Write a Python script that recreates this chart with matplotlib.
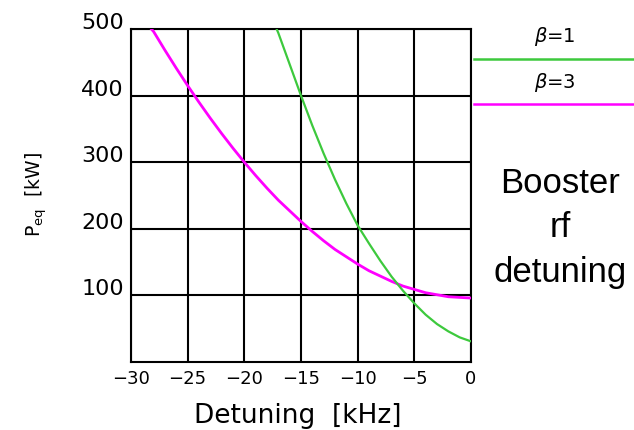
import matplotlib
matplotlib.use("Agg")
import matplotlib.pyplot as plt
from matplotlib.lines import Line2D

# Detuning axis [kHz] and equilibrium power [kW] for the two coupling factors
detuning_b1 = [-17.15, -17, -16, -15, -14, -13, -12, -11, -10, -9, -8, -7,
               -6, -5, -4, -3, -2, -1, 0]
power_b1 = [500, 494, 447, 400, 355, 313, 274, 238, 205, 178, 152, 128,
            107, 88, 71, 57, 46, 37, 31]

detuning_b3 = [-28.2, -28, -27, -26, -25, -24, -23, -22, -21, -20, -19, -18,
               -17, -16, -15, -14, -13, -12, -11, -10, -9, -8, -7, -6, -5,
               -4, -3, -2, -1, 0]
power_b3 = [500, 496, 468, 441, 415, 390, 366, 343, 321, 300, 280, 261,
            243, 227, 211, 196, 182, 169, 158, 147, 137, 129, 121, 114, 109,
            104, 101, 98, 97, 96]

x_ticks = [-30, -25, -20, -15, -10, -5, 0]
x_tick_labels = ["\u221230", "\u221225", "\u221220", "\u221215", "\u221210", "\u22125", "0"]
y_ticks = [100, 200, 300, 400, 500]
y_tick_labels = ["100", "200", "300", "400", "500"]

series_labels = [r"$\beta$=1", r"$\beta$=3"]
green = "#3dc93d"
magenta = "#ff00ff"

W, H = 634, 430
fig = plt.figure(figsize=(W / 100, H / 100), dpi=100)
ax = fig.add_axes([131 / W, 1 - 362 / H, (471 - 131) / W, (362 - 29) / H])

ax.set_xlim(-30, 0)
ax.set_ylim(0, 500)

# grid drawn as plain black lines
for xv in x_ticks:
    ax.axvline(xv, color="black", lw=1.5, zorder=1)
for yv in y_ticks:
    ax.axhline(yv, color="black", lw=1.5, zorder=1)

ax.plot(detuning_b3, power_b3, color=magenta, lw=2.0, zorder=3,
        solid_joinstyle="round")
ax.plot(detuning_b1, power_b1, color=green, lw=1.6, zorder=3,
        solid_joinstyle="round")

for s in ax.spines.values():
    s.set_linewidth(1.5)
    s.set_color("black")

ax.set_xticks(x_ticks)
ax.set_xticklabels(x_tick_labels, fontsize=13)
ax.set_yticks(y_ticks)
ax.set_yticklabels(y_tick_labels, fontsize=16)
ax.tick_params(axis="both", length=0)
ax.tick_params(axis="x", pad=6)
ax.tick_params(axis="y", pad=5)
for lab in ax.get_yticklabels():
    lab.set_va("baseline")

# axis titles
fig.text(298 / W, 1 - 423 / H, "Detuning  [kHz]", fontsize=19, ha="center",
         va="baseline")
fig.text(36 / W, 1 - 195 / H, r"P$_{\rm eq}$  [kW]", fontsize=13.5, rotation=90,
         ha="center", va="center")

# legend on the right
fig.add_artist(Line2D([474 / W, 1.0], [1 - 59 / H, 1 - 59 / H], color=green,
                      lw=1.8, transform=fig.transFigure))
fig.add_artist(Line2D([474 / W, 1.0], [1 - 104 / H, 1 - 104 / H], color=magenta,
                      lw=1.8, transform=fig.transFigure))
fig.text(555 / W, 1 - 37 / H, series_labels[0], fontsize=14, ha="center",
         va="center")
fig.text(555 / W, 1 - 82 / H, series_labels[1], fontsize=14, ha="center",
         va="center")

fig.text(560 / W, 1 - 228 / H, "Booster\nrf\ndetuning", fontsize=25,
         family="Liberation Sans", ha="center", va="center", linespacing=1.45)

fig.savefig("out.png", dpi=100)
